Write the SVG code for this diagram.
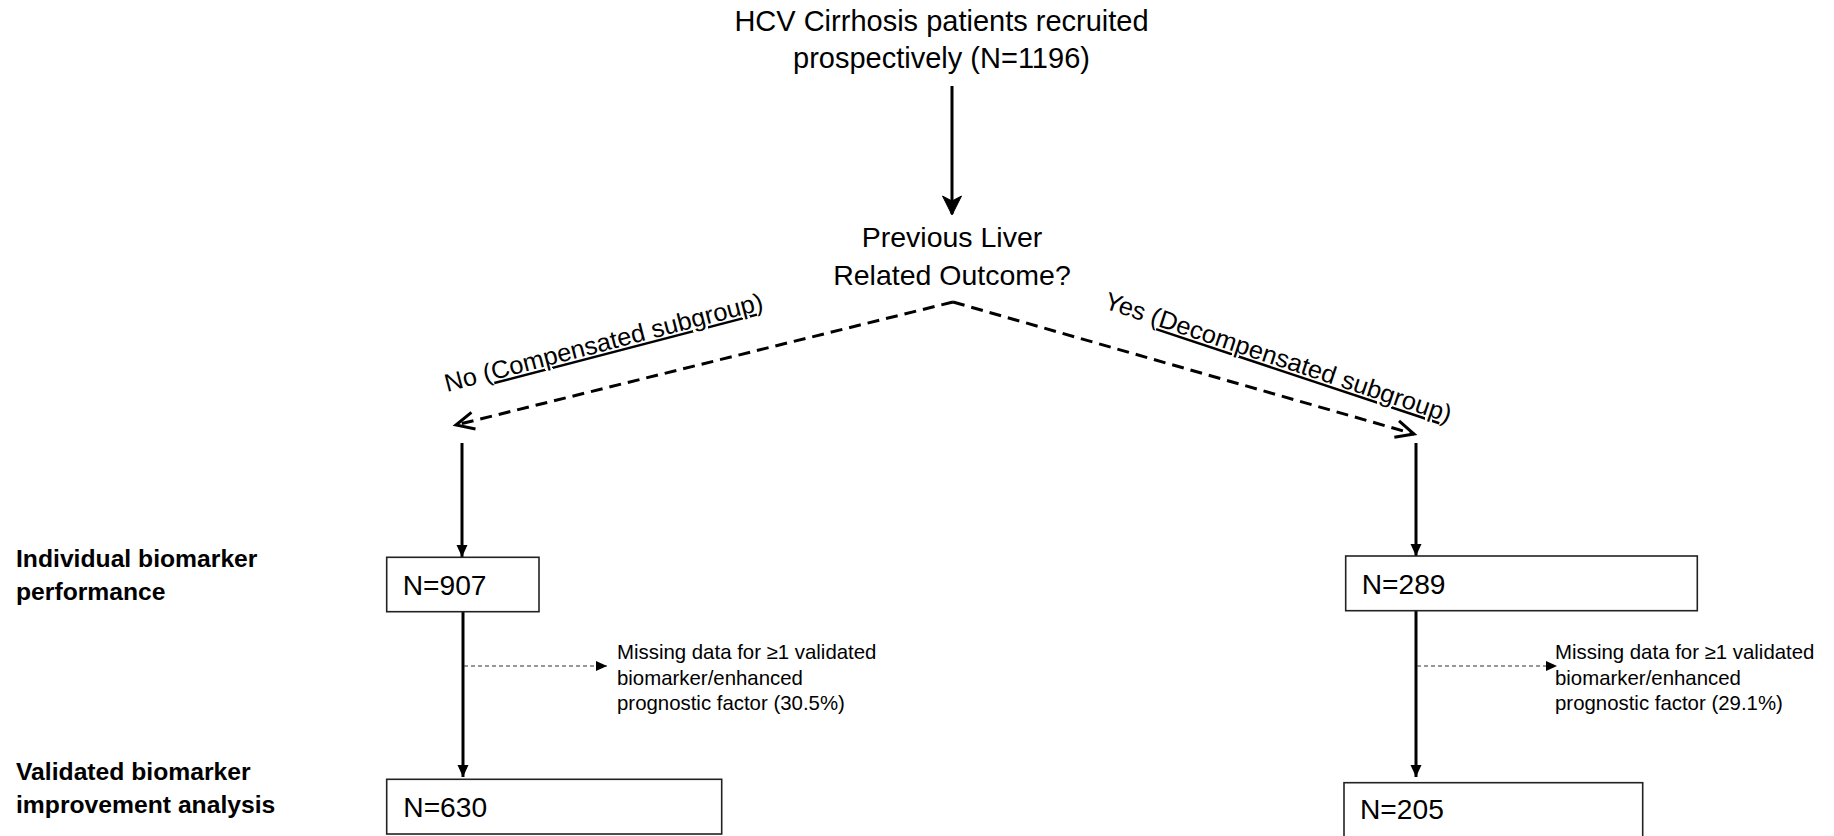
<svg xmlns="http://www.w3.org/2000/svg" width="1834" height="836" viewBox="0 0 1834 836">
<defs>
<style>
text{font-family:"Liberation Sans",Arial,sans-serif;fill:#000}
.title{font-size:29px;text-anchor:middle}
.dec{font-size:28.5px;text-anchor:middle}
.branch{font-size:25px}
.stage{font-size:24.7px;font-weight:bold}
.n{font-size:28.2px}
.note{font-size:20.4px}
.box{fill:#fff;stroke:#222;stroke-width:1.6}
.solid{fill:none;stroke:#000;stroke-width:3}
.dash{fill:none;stroke:#000;stroke-width:3;stroke-dasharray:12 7}
.thin{fill:none;stroke:#333;stroke-width:1.1;stroke-dasharray:4 3}
.ul{text-decoration:underline}
</style>
<marker id="tri" markerUnits="userSpaceOnUse" markerWidth="14" markerHeight="14" refX="12" refY="6" orient="auto" overflow="visible">
<path d="M0,0.5 L12,6 L0,11.5 z" fill="#000"/>
</marker>
<marker id="tri-s" markerUnits="userSpaceOnUse" markerWidth="13" markerHeight="12" refX="11" refY="5" orient="auto" overflow="visible">
<path d="M0,0 L11,5 L0,10 z" fill="#000"/>
</marker>
<marker id="chev" markerUnits="userSpaceOnUse" markerWidth="24" markerHeight="24" refX="0" refY="0" orient="auto" overflow="visible">
<path d="M-18,-8.5 L0,0 L-18,8.5" fill="none" stroke="#000" stroke-width="3" stroke-linejoin="miter"/>
</marker>
<marker id="stealth" markerUnits="userSpaceOnUse" markerWidth="24" markerHeight="24" refX="0" refY="0" orient="auto" overflow="visible">
<path d="M-18,-9.5 L1,0 L-18,9.5 L-13,0 z" fill="#000" stroke="#000" stroke-width="1" stroke-linejoin="miter"/>
</marker>
</defs>
<rect width="1834" height="836" fill="#fff"/>

<g id="connectors">
<line class="solid" x1="952" y1="86" x2="952" y2="214" marker-end="url(#stealth)"/>
<line class="dash" x1="953" y1="302" x2="456" y2="425" marker-end="url(#chev)"/>
<line class="dash" x1="953" y1="302" x2="1414" y2="434" marker-end="url(#chev)"/>
<line class="solid" x1="462" y1="443" x2="462" y2="557" marker-end="url(#tri)"/>
<line class="solid" x1="1416" y1="443" x2="1416" y2="556" marker-end="url(#tri)"/>
<line class="solid" x1="463" y1="612" x2="463" y2="777" marker-end="url(#tri)"/>
<line class="solid" x1="1416" y1="611" x2="1416" y2="777" marker-end="url(#tri)"/>
<line class="thin" x1="464" y1="666" x2="607" y2="666" marker-end="url(#tri-s)"/>
<line class="thin" x1="1417" y1="666" x2="1557" y2="666" marker-end="url(#tri-s)"/>
</g>

<g id="node-start">
<text class="title" x="941.5" y="31">HCV Cirrhosis patients recruited</text>
<text class="title" x="941.5" y="68">prospectively (N=1196)</text>
</g>

<g id="node-decision">
<text class="dec" x="952" y="247">Previous Liver</text>
<text class="dec" x="952" y="285">Related Outcome?</text>
</g>

<g id="label-no">
<text class="branch" transform="translate(447,392) rotate(-14.6)" textLength="328" lengthAdjust="spacingAndGlyphs">No (<tspan class="ul">Compensated subgroup</tspan>)</text>
</g>

<g id="label-yes">
<text class="branch" transform="translate(1103,308) rotate(18.4)" textLength="364" lengthAdjust="spacingAndGlyphs">Yes (<tspan class="ul">Decompensated subgroup</tspan>)</text>
</g>

<g id="stage-individual">
<text class="stage" x="16" y="567">Individual biomarker</text>
<text class="stage" x="16" y="600">performance</text>
</g>

<g id="stage-validated">
<text class="stage" x="16" y="780">Validated biomarker</text>
<text class="stage" x="16" y="813">improvement analysis</text>
</g>

<g id="node-n907">
<rect class="box" x="386.7" y="557.3" width="152.3" height="54.4"/>
<text class="n" x="402.7" y="595">N=907</text>
</g>

<g id="node-n630">
<rect class="box" x="386.7" y="779.3" width="335" height="54.7"/>
<text class="n" x="403.3" y="817.3">N=630</text>
</g>

<g id="node-n289">
<rect class="box" x="1345.7" y="556" width="351.6" height="54.7"/>
<text class="n" x="1361.7" y="594">N=289</text>
</g>

<g id="node-n205">
<rect class="box" x="1344" y="782.7" width="298.7" height="70"/>
<text class="n" x="1360" y="819.3">N=205</text>
</g>

<g id="note-left">
<text class="note" x="617" y="659">Missing data for ≥1 validated</text>
<text class="note" x="617" y="685">biomarker/enhanced</text>
<text class="note" x="617" y="710">prognostic factor (30.5%)</text>
</g>

<g id="note-right">
<text class="note" x="1555" y="659">Missing data for ≥1 validated</text>
<text class="note" x="1555" y="685">biomarker/enhanced</text>
<text class="note" x="1555" y="710">prognostic factor (29.1%)</text>
</g>
</svg>
